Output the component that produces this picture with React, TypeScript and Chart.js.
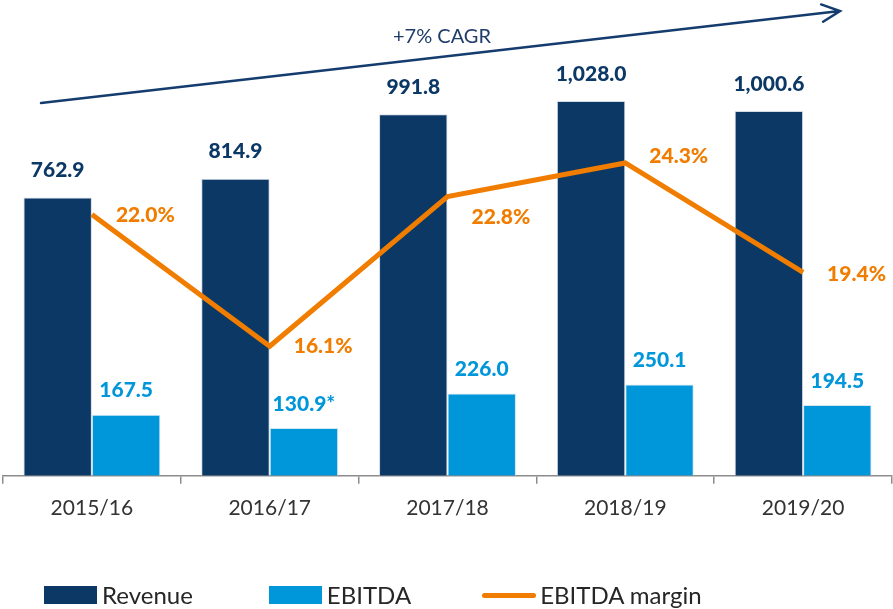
import React, { useEffect, useRef } from "react";
import { Chart, registerables } from "chart.js";
Chart.register(...registerables);

const categories = ["2015/16", "2016/17", "2017/18", "2018/19", "2019/20"];
const revenue = [762.9, 814.9, 991.8, 1028.0, 1000.6];
const ebitda = [167.5, 130.9, 226.0, 250.1, 194.5];
const ebitdaMargin = [22.0, 16.1, 22.8, 24.3, 19.4];
const revenueLabels = ["762.9", "814.9", "991.8", "1,028.0", "1,000.6"];
const ebitdaLabels = ["167.5", "130.9*", "226.0", "250.1", "194.5"];
const marginLabels = ["22.0%", "16.1%", "22.8%", "24.3%", "19.4%"];
const cagrLabel = "+7% CAGR";
const legendNames = ["Revenue", "EBITDA", "EBITDA margin"];

const NAVY = "#0c3866";
const BLUE = "#0096da";
const ORANGE = "#f07d00";
const FONT = "Lato, 'Open Sans', sans-serif";

const marginLabelDy = [1, 0, 21, -7, 2];

const labelPlugin = {
  id: "labels",
  afterDatasetsDraw(chart: any) {
    const ctx = chart.ctx;
    ctx.save();
    ctx.textAlign = "center";
    ctx.textBaseline = "middle";
    ctx.font = `900 21px ${FONT}`;
    const m0 = chart.getDatasetMeta(0);
    m0.data.forEach((el: any, i: number) => {
      ctx.fillStyle = NAVY;
      ctx.fillText(revenueLabels[i], el.x, el.y - 27);
    });
    const m1 = chart.getDatasetMeta(1);
    m1.data.forEach((el: any, i: number) => {
      ctx.fillStyle = BLUE;
      ctx.fillText(ebitdaLabels[i], el.x, el.y - 24);
    });
    const m2 = chart.getDatasetMeta(2);
    ctx.textAlign = "left";
    m2.data.forEach((el: any, i: number) => {
      ctx.fillStyle = ORANGE;
      ctx.fillText(marginLabels[i], el.x + 24, el.y + marginLabelDy[i]);
    });
    ctx.restore();
  },
  afterDraw(chart: any) {
    const ctx = chart.ctx;
    const ca = chart.chartArea;
    const x0 = ca.left + 38, y0 = 103;
    const x1 = ca.left + 837, y1 = 11;
    ctx.save();
    ctx.strokeStyle = "#143c6e";
    ctx.lineWidth = 2.5;
    ctx.lineCap = "round";
    ctx.beginPath();
    ctx.moveTo(x0, y0);
    ctx.lineTo(x1, y1);
    const ang = Math.atan2(y1 - y0, x1 - x0);
    const hl = 20;
    ctx.moveTo(x1 - hl * Math.cos(ang - 0.45), y1 - hl * Math.sin(ang - 0.45));
    ctx.lineTo(x1, y1);
    ctx.lineTo(x1 - hl * Math.cos(ang + 0.45), y1 - hl * Math.sin(ang + 0.45));
    ctx.stroke();
    ctx.fillStyle = "#1f3d6b";
    ctx.font = `20px ${FONT}`;
    ctx.textAlign = "center";
    ctx.textBaseline = "middle";
    ctx.fillText(cagrLabel, 442, 37);
    ctx.restore();
  },
};

export default function App() {
  const ref = useRef<HTMLCanvasElement>(null);
  useEffect(() => {
    document.body.style.margin = "0";
    const chart = new Chart(ref.current!, {
      type: "bar",
      data: {
        labels: categories,
        datasets: [
          { type: "bar", label: legendNames[0], data: revenue, backgroundColor: NAVY, borderColor: "rgba(200,210,225,0.8)", borderWidth: 1, yAxisID: "y", order: 2, categoryPercentage: 0.77, barPercentage: 1 },
          { type: "bar", label: legendNames[1], data: ebitda, backgroundColor: BLUE, borderColor: "rgba(200,225,240,0.8)", borderWidth: 1, yAxisID: "y", order: 2, categoryPercentage: 0.77, barPercentage: 1 },
          { type: "line", label: legendNames[2], data: ebitdaMargin, borderColor: ORANGE, borderWidth: 5, pointRadius: 0, yAxisID: "y1", order: 0, borderJoinStyle: "miter" } as any,
        ],
      },
      options: {
        animation: false,
        responsive: false,
        maintainAspectRatio: false,
        layout: { padding: { left: 3, right: 1, top: 20, bottom: 76 } },
        plugins: { legend: { display: false }, tooltip: { enabled: false } },
        scales: {
          x: {
            offset: true,
            grid: { offset: true, drawOnChartArea: false, drawTicks: true, tickLength: 8, color: "#8c8c8c", lineWidth: 1.5 },
            border: { color: "#8c8c8c", width: 1.5 },
            ticks: { color: "#333333", font: { family: FONT, size: 21 }, padding: 12 },
          },
          y: { display: false, min: 0, max: 1250 },
          y1: { display: false, min: 10.3, max: 30.7 },
        },
      },
      plugins: [labelPlugin],
    });
    return () => chart.destroy();
  }, []);

  const legendText: React.CSSProperties = { fontFamily: FONT, fontSize: 24, color: "#262626", marginLeft: 5, lineHeight: "26px" };
  return (
    <div style={{ position: "relative", width: 893, height: 609 }}>
      <canvas ref={ref} width={893} height={609} style={{ display: "block" }} />
      <div style={{ position: "absolute", left: 44, top: 582, display: "flex", alignItems: "center", height: 26 }}>
        <div style={{ width: 53, height: 18, background: NAVY }} />
        <span style={legendText}>{legendNames[0]}</span>
        <div style={{ width: 53, height: 18, background: BLUE, marginLeft: 76 }} />
        <span style={legendText}>{legendNames[1]}</span>
        <div style={{ width: 54, height: 5, borderRadius: 3, background: ORANGE, marginLeft: 71 }} />
        <span style={{ ...legendText, marginLeft: 4 }}>{legendNames[2]}</span>
      </div>
    </div>
  );
}
